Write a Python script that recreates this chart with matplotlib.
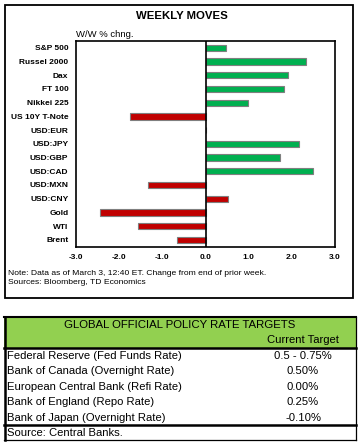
import numpy as np
import matplotlib.pyplot as plt
from matplotlib.patches import Rectangle

plt.rcParams['font.family'] = ['Liberation Sans', 'DejaVu Sans']

# weekly moves data
names = ['S&P 500', 'Russel 2000', 'Dax', 'FT 100', 'Nikkei 225', 'US 10Y T-Note',
         'USD:EUR', 'USD:JPY', 'USD:GBP', 'USD:CAD', 'USD:MXN', 'USD:CNY',
         'Gold', 'WTI', 'Brent']
moves = [0.47, 2.32, 1.90, 1.81, 0.98, -1.74, 0.02, 2.16, 1.72, 2.48,
         -1.33, 0.51, -2.45, -1.57, -0.67]
bar_cols = ['#00B050'] * 5 + ['#C00000'] + ['#00B050'] * 4 + ['#C00000'] * 5
xticks = [-3.0, -2.0, -1.0, 0.0, 1.0, 2.0, 3.0]

# policy rate table
banks = ['Federal Reserve (Fed Funds Rate)', 'Bank of Canada (Overnight Rate)',
         'European Central Bank (Refi Rate)', 'Bank of England (Repo Rate)',
         'Bank of Japan (Overnight Rate)']
targets = ['0.5 - 0.75%', '0.50%', '0.00%', '0.25%', '-0.10%']

W, H = 361, 446
fig = plt.figure(figsize=(W / 100, H / 100), dpi=100)

# background layer in pixel coords
bg = fig.add_axes([0, 0, 1, 1])
bg.set_xlim(0, W)
bg.set_ylim(H, 0)
bg.axis('off')

# outer box of chart
bg.add_patch(Rectangle((5, 5), 348, 293, fill=False, ec='black', lw=1.3))
bg.text(182, 16, 'WEEKLY MOVES', ha='center', va='center', fontsize=8.2, fontweight='bold')
bg.text(76, 34.5, 'W/W % chng.', ha='left', va='center', fontsize=6.8)
bg.text(8, 273.5, 'Note: Data as of March 3, 12:40 ET. Change from end of prior week.',
        ha='left', va='center', fontsize=6.1)
bg.text(8, 282, 'Sources: Bloomberg, TD Economics', ha='left', va='center', fontsize=6.1)

# bar chart
ax = fig.add_axes([76 / W, 1 - 246.7 / H, (335 - 76) / W, (246.7 - 41) / H])
y = np.arange(len(names))
ax.barh(y, moves, height=0.45, color=bar_cols, edgecolor='#7f7f7f', linewidth=0.8, zorder=2)
ax.axvline(0, color='black', lw=1.2, zorder=3)
ax.set_xlim(-3, 3)
ax.set_ylim(len(names) - 0.5, -0.5)
ax.set_xticks(xticks)
ax.set_xticklabels(['%.1f' % v for v in xticks], fontsize=6, fontweight='bold')
ax.set_yticks(y)
ax.set_yticklabels(names, fontsize=6, fontweight='bold')
ax.tick_params(axis='x', length=0, pad=5.5)
ax.tick_params(axis='y', length=0, pad=5.5)
for s in ax.spines.values():
    s.set_linewidth(1.2)

# table
bg.add_patch(Rectangle((4, 317), 352, 31, color='#92D050', lw=0))
bg.text(180, 325, 'GLOBAL OFFICIAL POLICY RATE TARGETS', ha='center', va='center', fontsize=8.2)
bg.text(303, 340, 'Current Target', ha='center', va='center', fontsize=8.1)
row_y = [355.7, 371, 386.8, 402.3, 417.6]
for b, t, yy in zip(banks, targets, row_y):
    bg.text(7, yy, b, ha='left', va='center', fontsize=8.1)
    bg.text(303, yy, t, ha='center', va='center', fontsize=8.1)
bg.text(7, 433.5, 'Source: Central Banks.', ha='left', va='center', fontsize=8.1)

bg.plot([4, 356], [317, 317], color='black', lw=1.5)
bg.plot([4, 356], [348, 348], color='black', lw=1.8)
bg.plot([4, 356], [424.5, 424.5], color='black', lw=1.8)
bg.plot([4, 356], [440, 440], color='black', lw=0.9)
bg.plot([4.5, 4.5], [317, 440], color='black', lw=1.8)
bg.plot([356, 356], [317, 440], color='black', lw=0.9)

fig.savefig('out.png', dpi=100)
